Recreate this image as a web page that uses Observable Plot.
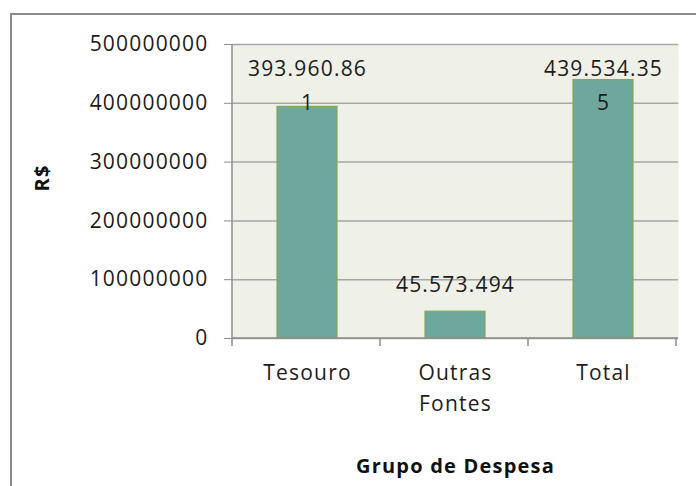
<!DOCTYPE html>
<html>
<head>
<meta charset="utf-8">
<script src="https://cdn.jsdelivr.net/npm/d3@7"></script>
<script src="https://cdn.jsdelivr.net/npm/@observablehq/plot@0.6"></script>
<style>
  html, body { margin: 0; padding: 0; background: #fff; }
  #wrap { position: relative; width: 696px; height: 486px; overflow: hidden; }
  #frame { position: absolute; left: 10px; top: 13px; width: 700px; height: 500px;
           border-top: 2px solid #8a8a8a; border-left: 2px solid #8a8a8a; pointer-events: none; }
  #chart { position: absolute; left: 0; top: 0; }
</style>
</head>
<body>
<div id="wrap"><div id="chart"></div><div id="frame"></div></div>
<script>
const categories = ["Tesouro", "Outras\nFontes", "Total"];
const values = [393960861, 45573494, 439534355];
const yTicks = [0, 100000000, 200000000, 300000000, 400000000, 500000000];
const yTitle = "R$";
const xTitle = "Grupo de Despesa";

const fmtDots = v => String(v).replace(/\B(?=(\d{3})+(?!\d))/g, ".");
// Excel wraps long data labels after 10 characters
const wrapLabel = s => s.length > 10 ? s.slice(0, 10) + "\n" + s.slice(10) : s;

const data = categories.map((c, i) => ({cat: c, value: values[i], label: wrapLabel(fmtDots(values[i]))}));
const yMax = yTicks[yTicks.length - 1];

const FONT = "'Open Sans', 'DejaVu Sans', sans-serif";

const chart = Plot.plot({
  width: 696,
  height: 486,
  marginLeft: 232,
  marginRight: 18,
  marginTop: 44,
  marginBottom: 148,
  style: {fontFamily: FONT, fontSize: "21px", color: "#1c1c1c", background: "transparent", letterSpacing: "1.2px"},
  x: {domain: categories, paddingInner: 0.595, paddingOuter: 0.2975, align: 0.5},
  y: {domain: [0, yMax], ticks: yTicks},
  marks: [
    Plot.frame({fill: "#eff1e9", stroke: null}),
    Plot.ruleY(yTicks, {stroke: "#a6a6a6", strokeWidth: 1.5}),
    Plot.barY(data, {x: "cat", y: "value", fill: "#6ea89d", stroke: "#88a55a", strokeWidth: 1.2}),
    Plot.axisY({ticks: yTicks, tickFormat: d => String(d), tickSize: 8, tickPadding: 16, stroke: "#8c8c8c",
                fontSize: 21, label: null}),
    Plot.axisX({tickSize: 0, tickPadding: 19, fontSize: 21, label: null, lineHeight: 1.5}),
    // data labels: short ones sit above the bar, wrapped ones are clamped to the top of the plot
    Plot.text(data.filter(d => !d.label.includes("\n")), {x: "cat", y: "value", text: "label",
      lineAnchor: "bottom", dy: -20, fontSize: 21, fill: "#1c1c1c"}),
    Plot.text(data.filter(d => d.label.includes("\n")), {x: "cat", y: () => yMax, text: "label",
      lineAnchor: "top", dy: 8, lineHeight: 1.6, fontSize: 21, fill: "#1c1c1c"}),
    Plot.text([yTitle], {frameAnchor: "left", dx: -190, rotate: -90, fontWeight: "bold", fontSize: 20, fill: "#111", letterSpacing: "0.5px"}),
    Plot.text([xTitle], {frameAnchor: "bottom", dy: 134, fontWeight: "bold", fontSize: 20, fill: "#111", letterSpacing: "0.4px"})
  ]
});

document.getElementById("chart").appendChild(chart);

// axis lines and category-boundary tick marks, positioned through the scales
const xs = chart.scale("x");
const ys = chart.scale("y");
const svg = d3.select(chart);
const y0 = ys.apply(0);
const [xr0, xr1] = xs.range;
const step = xs.step;
const bounds = d3.range(categories.length + 1).map(i => xr0 + i * step);
const ax = svg.append("g").attr("stroke", "#8c8c8c").attr("stroke-width", 1.5);
ax.append("line").attr("x1", xr0).attr("x2", xr1).attr("y1", y0).attr("y2", y0);
bounds.forEach(b => ax.append("line").attr("x1", b).attr("x2", b).attr("y1", y0).attr("y2", y0 + 8));
ax.append("line").attr("x1", xr0).attr("x2", xr0).attr("y1", ys.apply(yMax)).attr("y2", y0);
</script>
</body>
</html>
